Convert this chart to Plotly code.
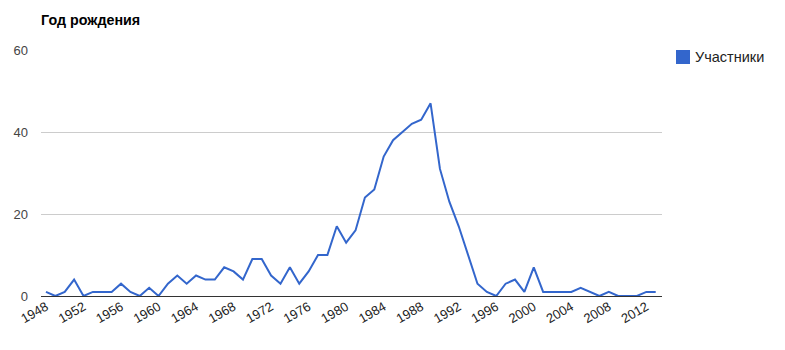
import plotly.graph_objects as go

years = list(range(1948, 2014))
participants = [
    1, 0, 1, 4, 0, 1, 1, 1, 3, 1,
    0, 2, 0, 3, 5, 3, 5, 4, 4, 7,
    6, 4, 9, 9, 5, 3, 7, 3, 6, 10,
    10, 17, 13, 16, 24, 26, 34, 38, 40, 42,
    43, 47, 31, 23, 17, 10, 3, 1, 0, 3,
    4, 1, 7, 1, 1, 1, 1, 2, 1, 0,
    1, 0, 0, 0, 1, 1,
]
x_ticks = list(range(1948, 2013, 4))
y_ticks = [0, 20, 40, 60]
series_name = "Участники"
title_text = "Год рождения"

FONT = "Arial, Liberation Sans, sans-serif"
BLUE = "#3366cc"

fig = go.Figure()
fig.add_trace(go.Scatter(
    x=years, y=participants, mode="lines", name=series_name,
    line=dict(color=BLUE, width=2), showlegend=False,
))

W, H = 785, 350
L, R, T, B = 41, 123, 50, 54

fig.update_layout(
    width=W, height=H,
    margin=dict(l=L, r=R, t=T, b=B),
    paper_bgcolor="white", plot_bgcolor="white",
    font=dict(family=FONT, size=13, color="#222222"),
    showlegend=False,
    title=dict(text="<b>" + title_text + "</b>", x=0, xref="paper", xanchor="left",
               y=1 - 20 / H, yref="container", yanchor="middle",
               font=dict(family=FONT, size=14.3, color="#000000")),
    xaxis=dict(
        range=[1947.47, 2013.67], tickmode="array", tickvals=x_ticks,
        ticktext=[str(v) for v in x_ticks], tickangle=-30,
        showgrid=False, zeroline=False, showline=False, ticks="",
        tickfont=dict(family=FONT, size=13, color="#222222"),
    ),
    yaxis=dict(
        range=[0, 60], tickmode="array", tickvals=y_ticks,
        showgrid=True, gridcolor="#cccccc", gridwidth=1,
        zeroline=True, zerolinecolor="#333333", zerolinewidth=1,
        showline=False, ticks="", ticklabelstandoff=12,
        tickfont=dict(family=FONT, size=13, color="#444444"),
    ),
)

# legend (drawn manually to match square swatch)
plot_w = W - L - R
plot_h = H - T - B
def px_x(p):
    return (p - L) / plot_w
def px_y(p):
    return 1 - (p - T) / plot_h

fig.add_shape(type="rect", xref="paper", yref="paper",
              x0=px_x(676), x1=px_x(690), y0=px_y(64), y1=px_y(50),
              fillcolor=BLUE, line=dict(width=0))
fig.add_annotation(text=series_name, xref="paper", yref="paper",
                   x=px_x(693), y=px_y(57), xanchor="left", yanchor="middle",
                   showarrow=False, font=dict(family=FONT, size=14.5, color="#222222"))

fig.write_html("out.html")
